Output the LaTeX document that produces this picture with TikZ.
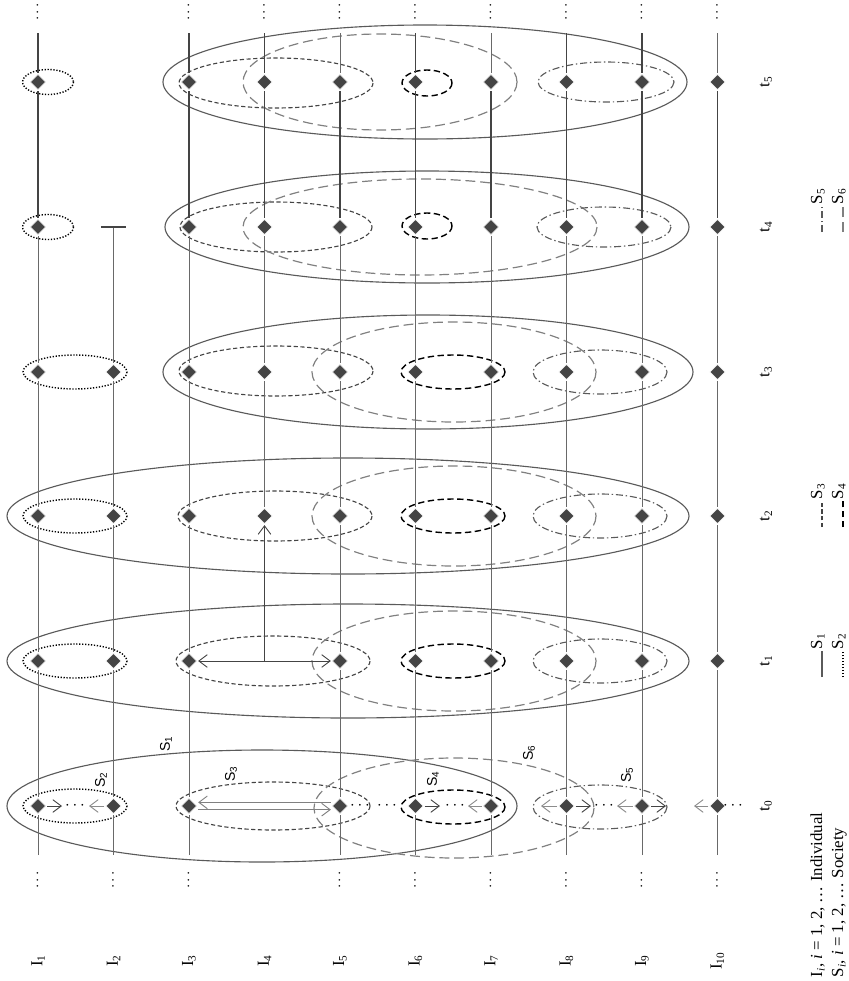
\documentclass[tikz,border=0pt]{standalone}
\usepackage{fontspec}
\setmainfont{Liberation Serif}
\setsansfont{Liberation Sans}
\usetikzlibrary{arrows.meta,shapes.geometric}

\definecolor{dgray}{RGB}{68,68,68}
\definecolor{lgray}{RGB}{105,105,105}
\definecolor{sgray}{RGB}{90,90,90}
\definecolor{mgray}{RGB}{128,128,128}
\definecolor{agray}{RGB}{140,140,140}

\begin{document}
\begin{tikzpicture}[
		x=0.025cm,
		y=-0.025cm,
		font=\fontsize{12}{14}\selectfont,
		ind/.style={shape=diamond,fill=dgray,draw=white,line width=0.4pt,inner sep=0pt,minimum size=0.4cm,outer sep=0.8pt},
		life/.style={draw=lgray,line width=0.7pt},
		lifebold/.style={draw=dgray,line width=1.15pt},
		soc1/.style={draw=sgray,line width=0.8pt},
		soc2/.style={draw=black,line width=1pt,dash pattern=on 0.9pt off 1.2pt},
		soc3/.style={draw=dgray,line width=0.8pt,dash pattern=on 3pt off 1.8pt},
		soc4/.style={draw=black,line width=1pt,dash pattern=on 4.5pt off 2.5pt},
		soc5/.style={draw=sgray,line width=0.8pt,dash pattern=on 5pt off 2pt on 1pt off 2pt},
		soc6/.style={draw=mgray,line width=0.85pt,dash pattern=on 7pt off 3.5pt},
		lab/.style={rotate=90,inner sep=1pt},
		slab/.style={rotate=90,inner sep=1pt,font=\sffamily\fontsize{10}{12}\selectfont},
		dots/.style={rotate=90,inner sep=0pt,font=\fontsize{11}{12}\selectfont},
		push/.style={-{Straight Barb[length=6pt,width=9pt]},line width=0.65pt,draw=dgray},
		pull/.style={-{Straight Barb[length=6pt,width=9pt]},line width=0.65pt,draw=agray},
		twin/.style={-{Straight Barb[length=6pt,width=9pt]},line width=0.65pt,draw=mgray},
		meet/.style={{Straight Barb[length=6pt,width=9pt]}-{Straight Barb[length=6pt,width=9pt]},line width=0.65pt,draw=dgray}
		]
		
		\useasboundingbox (0,0) rectangle (849,981);
		
		% =====================================================
		% Societies (ellipses), one row per time step
		% =====================================================
		% t0
		\draw[soc1] (262,806) ellipse [x radius=255,y radius=56];
		\draw[soc2] (75,806) ellipse [x radius=52,y radius=17];
		\draw[soc3] (273,806) ellipse [x radius=97,y radius=24];
		\draw[soc6] (454,808) ellipse [x radius=140,y radius=50];
		\draw[soc4] (453,807) ellipse [x radius=52,y radius=17];
		\draw[soc5] (600,807) ellipse [x radius=67,y radius=22];
		
		% t1
		\draw[soc1] (348,661) ellipse [x radius=341,y radius=57];
		\draw[soc2] (75,661) ellipse [x radius=52,y radius=17];
		\draw[soc3] (273,661) ellipse [x radius=97,y radius=25];
		\draw[soc6] (454,661) ellipse [x radius=142,y radius=50];
		\draw[soc4] (453,661) ellipse [x radius=52,y radius=17];
		\draw[soc5] (600,661) ellipse [x radius=67,y radius=22];
		
		% t2
		\draw[soc1] (348,516) ellipse [x radius=341,y radius=58];
		\draw[soc2] (75,516) ellipse [x radius=52,y radius=17];
		\draw[soc3] (275,516) ellipse [x radius=97,y radius=25];
		\draw[soc6] (454,516) ellipse [x radius=142,y radius=50];
		\draw[soc4] (453,516) ellipse [x radius=52,y radius=17];
		\draw[soc5] (600,516) ellipse [x radius=67,y radius=22];
		
		% t3
		\draw[soc1] (428,372) ellipse [x radius=265,y radius=57];
		\draw[soc2] (75,372) ellipse [x radius=52,y radius=17];
		\draw[soc3] (276,371) ellipse [x radius=97,y radius=25];
		\draw[soc6] (454,372) ellipse [x radius=142,y radius=50];
		\draw[soc4] (453,372) ellipse [x radius=52,y radius=17];
		\draw[soc5] (600,372) ellipse [x radius=67,y radius=22];
		
		% t4
		\draw[soc1] (427,227) ellipse [x radius=262,y radius=56];
		\draw[soc2] (48,227) ellipse [x radius=25.5,y radius=12.5];
		\draw[soc3] (276,227) ellipse [x radius=96,y radius=25];
		\draw[soc6] (420,227) ellipse [x radius=177,y radius=48];
		\draw[soc4] (427,226) ellipse [x radius=25,y radius=13];
		\draw[soc5] (604,227) ellipse [x radius=67,y radius=20];
		
		% t5
		\draw[soc1] (425,82) ellipse [x radius=262,y radius=57];
		\draw[soc2] (48,82) ellipse [x radius=25.5,y radius=12.5];
		\draw[soc3] (276,83) ellipse [x radius=97,y radius=25];
		\draw[soc6] (380,82) ellipse [x radius=137,y radius=48];
		\draw[soc4] (427,83) ellipse [x radius=25,y radius=13];
		\draw[soc5] (606,82) ellipse [x radius=68,y radius=20];
		
		% society names at t0
		\node[slab] (nS1) at (166,744) {S\textsubscript{1}};
		\node[slab] (nS2) at (101,780) {S\textsubscript{2}};
		\node[slab] (nS3) at (231,774) {S\textsubscript{3}};
		\node[slab] (nS4) at (433,779) {S\textsubscript{4}};
		\node[slab] (nS5) at (627,775) {S\textsubscript{5}};
		\node[slab] (nS6) at (529,753) {S\textsubscript{6}};
		
		% =====================================================
		% Individuals at each time step
		% =====================================================
		\foreach \k in {1,2,3,5,6,7,8,9,10} {
			\node[ind] (d\k-0) at ({38+75.5*(\k-1)},806) {};
			\node[ind] (d\k-1) at ({38+75.5*(\k-1)},661) {};
		}
		\foreach \k in {1,...,10} {
			\node[ind] (d\k-2) at ({38+75.5*(\k-1)},516) {};
			\node[ind] (d\k-3) at ({38+75.5*(\k-1)},372) {};
		}
		\foreach \k in {1,3,4,5,6,7,8,9,10} {
			\node[ind] (d\k-4) at ({38+75.5*(\k-1)},227) {};
			\node[ind] (d\k-5) at ({38+75.5*(\k-1)},82) {};
		}
		
		% ends of the life lines
		\foreach \k in {1,2,3,5,6,7,8,9,10} {
			\coordinate (b\k) at ({38+75.5*(\k-1)},855);
			\node[dots] (vb\k) at ({38+75.5*(\k-1)},880) {$\cdots$};
		}
		\foreach \k in {1,3,4,5,6,7,8,9,10} {
			\coordinate (e\k) at ({38+75.5*(\k-1)},33);
			\node[dots] (ve\k) at ({38+75.5*(\k-1)},12) {$\cdots$};
		}
		\coordinate (bar2) at (113.5,226);
		\coordinate (j4) at (264.5,661);
		
		% life lines
		\foreach \k in {1,2,3,5,6,7,8,9,10}
		\draw[life] (b\k) -- (d\k-0) -- (d\k-1);
		\foreach \k in {1,3,5,6,7,8,9,10} {
			\draw[life] (d\k-1) -- (d\k-2) -- (d\k-3) -- (d\k-4);
			\draw[lifebold] (d\k-4) -- (d\k-5);
		}
		\draw[life] (d2-1) -- (d2-2) -- (d2-3);
		\draw[life,-{Bar[width=18pt,line width=1.1pt,color=dgray]}] (d2-3) -- (bar2);
		\draw[life] (d4-2) -- (d4-3) -- (d4-4);
		\draw[lifebold] (d4-4) -- (d4-5);
		\foreach \k in {1,3,4,6,8,9}
		\draw[lifebold] (d\k-5) -- (e\k);
		\foreach \k in {5,7,10}
		\draw[life] (d\k-5) -- (e\k);
		
		% =====================================================
		% Interactions at t0 and t1
		% =====================================================
		\coordinate (a1) at (62,806);
		\coordinate (a2) at (89,806);
		\coordinate (a6) at (440,806);
		\coordinate (a7) at (468,806);
		\coordinate (a8l) at (541,806);
		\coordinate (a8r) at (591,806);
		\coordinate (a9l) at (617,806);
		\coordinate (a9r) at (666,806);
		\coordinate (a10) at (694,806);
		
		\draw[push] (d1-0) -- (a1);
		\draw[pull] (d2-0) -- (a2);
		\node[inner sep=0pt] (c12) at (75,806) {$\cdots$};
		
		\draw[twin] ([yshift=2.6pt]d5-0.west) -- ([yshift=2.6pt]d3-0.east);
		\draw[twin] ([yshift=-2.6pt]d3-0.east) -- ([yshift=-2.6pt]d5-0.west);
		\node[inner sep=0pt] (c5a) at (360,806) {$\cdots$};
		\node[inner sep=0pt] (c5b) at (387,806) {$\cdots$};
		
		\draw[push] (d6-0) -- (a6);
		\draw[pull] (d7-0) -- (a7);
		\node[inner sep=0pt] (c67) at (455,806) {$\cdots$};
		
		\draw[pull] (d8-0) -- (a8l);
		\draw[push] (d8-0) -- (a8r);
		\node[inner sep=0pt] (c89) at (604,806) {$\cdots$};
		\draw[pull] (d9-0) -- (a9l);
		\draw[push] (d9-0) -- (a9r);
		
		\draw[pull] (d10-0) -- (a10);
		\node[inner sep=0pt] (c10) at (733,806) {$\cdots$};
		
		% I3 and I5 meet, I4 comes out of it
		\draw[meet] (d3-1) -- (d5-1);
		\draw[push] (j4) -- (d4-2);
		
		% =====================================================
		% Labels
		% =====================================================
		\foreach \k in {1,...,10}
		\node[lab] (nI\k) at ({38+75.5*(\k-1)},961) {I\textsubscript{\k}};
		
		\foreach \j/\ty in {0/806,1/661,2/516,3/372,4/227,5/82}
		\node[lab] (nt\j) at (766,\ty) {t\textsubscript{\j}};
		
		% =====================================================
		% Legend
		% =====================================================
		\node[lab,anchor=base west] (legI) at (822,979)
		{I\textsubscript{\textit{i}}, \textit{i} = 1, 2, \ldots\ Individual};
		\node[lab,anchor=base west] (legS) at (843,979)
		{S\textsubscript{\textit{i}}, \textit{i} = 1, 2, \ldots\ Society};
		
		\node[lab,anchor=base west] (lgS1) at (822,651) {S\textsubscript{1}};
		\node[lab,anchor=base west] (lgS2) at (843,651) {S\textsubscript{2}};
		\node[lab,anchor=base west] (lgS3) at (822,501) {S\textsubscript{3}};
		\node[lab,anchor=base west] (lgS4) at (843,501) {S\textsubscript{4}};
		\node[lab,anchor=base west] (lgS5) at (822,206) {S\textsubscript{5}};
		\node[lab,anchor=base west] (lgS6) at (843,206) {S\textsubscript{6}};
		
		\coordinate (ls1) at (822,677);
		\coordinate (ls2) at (843,677);
		\coordinate (ls3) at (822,527);
		\coordinate (ls4) at (843,527);
		\coordinate (ls5) at (822,232);
		\coordinate (ls6) at (843,232);
		
		\draw[soc1] (ls1) -- (lgS1.base west);
		\draw[soc2] (ls2) -- (lgS2.base west);
		\draw[soc3] (ls3) -- (lgS3.base west);
		\draw[soc4] (ls4) -- (lgS4.base west);
		\draw[soc5] (ls5) -- (lgS5.base west);
		\draw[soc6] (ls6) -- (lgS6.base west);
		
	\end{tikzpicture}
\end{document}
